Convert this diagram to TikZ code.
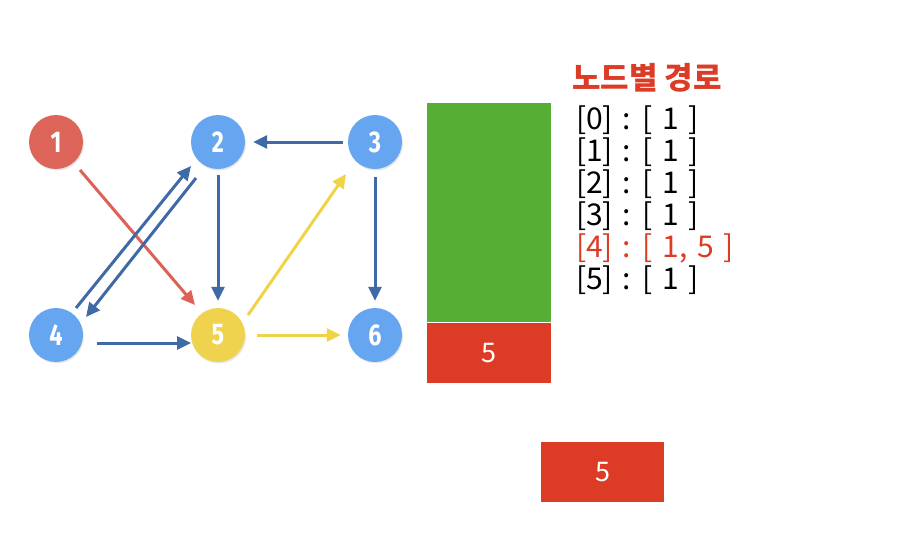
\documentclass[tikz,border=0pt]{standalone}
\usepackage{fontspec}
\usepackage{xcolor}
\usetikzlibrary{positioning, arrows.meta, shadows}
\newfontfamily\krfont{Noto Sans CJK KR}
\newfontfamily\numfont[FakeStretch=0.78]{Fira Sans}
\newcommand\pathfont{\krfont\fontsize{30}{30}\selectfont\spaceskip=0.32em\relax}
\definecolor{nodered}{HTML}{DD6459}
\definecolor{nodeblue}{HTML}{66A6F1}
\definecolor{nodeyellow}{HTML}{EFD34E}
\definecolor{edgeblue}{HTML}{3E6AA6}
\definecolor{edgered}{HTML}{DC6156}
\definecolor{edgeyellow}{HTML}{F0D447}
\definecolor{boxgreen}{HTML}{56AE35}
\definecolor{boxred}{HTML}{DC3B26}
\tikzset{
  vertex/.style={circle, minimum size=54pt, inner sep=0pt, text=white,
    font=\numfont\bfseries\fontsize{30}{30}\selectfont,
    drop shadow={opacity=0.18, shadow xshift=1pt, shadow yshift=-1.5pt}},
  edge/.style={line width=3pt, -{Triangle[length=14pt, width=13pt]}},
  cell/.style={rectangle, inner sep=0pt, anchor=north west, text=white,
    font=\krfont\fontsize{27}{27}\selectfont},
  pathline/.style={anchor=west, inner sep=0pt, font=\pathfont}
}
\begin{document}
\begin{tikzpicture}[x=1pt, y=-1pt]
\useasboundingbox (0,0) rectangle (912,544);
% --- Graph ---
\node[vertex, fill=nodered] (n1) at (56,142) {1};
\node[vertex, fill=nodeblue] (n2) at (218,142) {2};
\node[vertex, fill=nodeblue] (n3) at (375,142) {3};
\node[vertex, fill=nodeblue] (n4) at (56,335) {4};
\node[vertex, fill=nodeyellow] (n5) at (218,335) {5};
\node[vertex, fill=nodeblue] (n6) at (375,335) {6};
\draw[edge, edgered] ([shift={(24,28)}]n1.center) -- ([shift={(-23,-30)}]n5.center);
\draw[edge, edgeblue] ([xshift=-5pt]n3.west) -- ([xshift=8pt]n2.east);
\draw[edge, edgeblue] ([yshift=-6pt]n2.south) -- ([yshift=7pt]n5.north);
\draw[edge, edgeblue] ([shift={(20,-27)}]n4.center) -- ([shift={(-27,24)}]n2.center);
\draw[edge, edgeblue] ([shift={(-22,36)}]n2.center) -- ([shift={(30,-18)}]n4.center);
\draw[edge, edgeblue] ([shift={(41,8)}]n4.center) -- ([shift={(-27,8)}]n5.center);
\draw[edge, edgeyellow] ([shift={(30,-20)}]n5.center) -- ([shift={(-29,32)}]n3.center);
\draw[edge, edgeyellow] ([xshift=12pt]n5.east) -- ([xshift=-7pt]n6.west);
\draw[edge, edgeblue] ([yshift=-8pt]n3.south) -- ([yshift=7pt]n6.north);
% --- Stack ---
\node[cell, fill=boxgreen, minimum width=124pt, minimum height=219pt] (stack) at (427,103) {};
\node[cell, fill=boxred, minimum width=124pt, minimum height=60pt, below=0pt of stack.south west, anchor=north west] (top) {5};
\node[cell, fill=boxred, minimum width=123pt, minimum height=60pt] (out) at (541,442) {5};
% --- Paths ---
\node[anchor=west, inner sep=0pt, text=boxred, font=\krfont\bfseries\fontsize{31}{31}\selectfont] (title) at (572,78) {노드별 경로};
\node[pathline] (p0) at (576,120) {[0] : [ 1 ]};
\node[pathline] (p1) at (576,152) {[1] : [ 1 ]};
\node[pathline] (p2) at (576,184) {[2] : [ 1 ]};
\node[pathline] (p3) at (576,216) {[3] : [ 1 ]};
\node[pathline, text=boxred] (p4) at (576,248) {[4] : [ 1, 5 ]};
\node[pathline] (p5) at (576,280) {[5] : [ 1 ]};
\end{tikzpicture}
\end{document}
